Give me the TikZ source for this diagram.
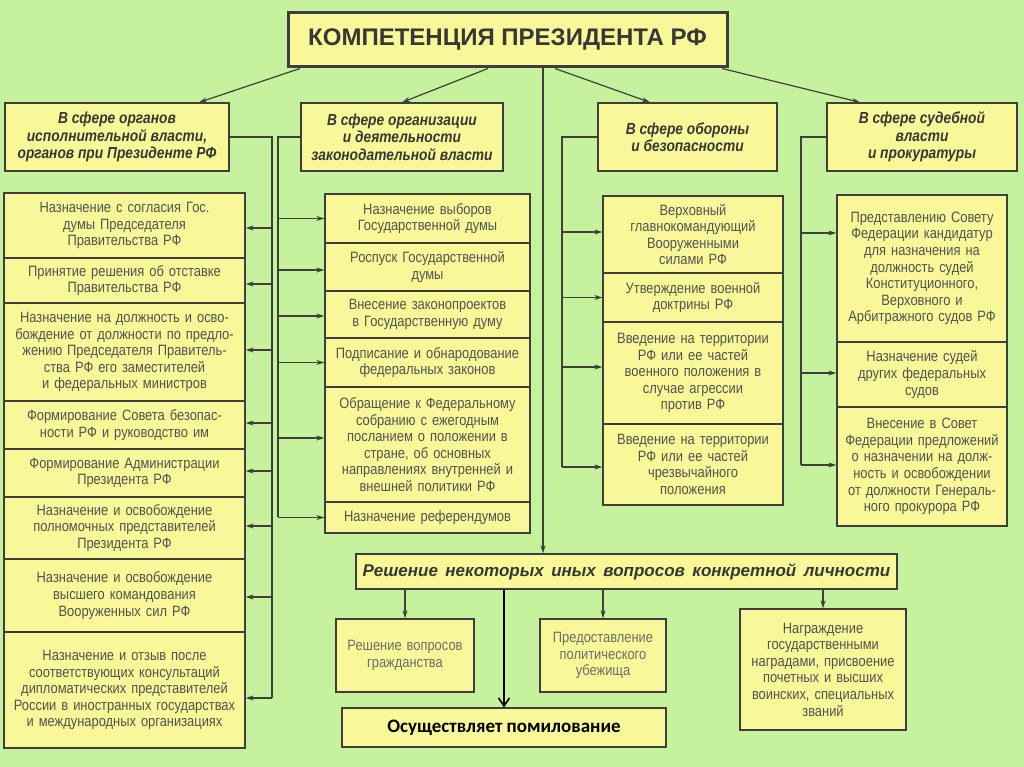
\documentclass[tikz,border=0pt]{standalone}
\usepackage{fontspec}
\setmainfont{Liberation Sans}
\newfontfamily\narrowsf[FakeStretch=0.86]{Liberation Sans}
\newfontfamily\calibrisf{Carlito}
\usetikzlibrary{arrows.meta,positioning}

\definecolor{bggreen}{RGB}{198,242,157}
\definecolor{boxfill}{RGB}{248,248,152}
\definecolor{edgegray}{RGB}{62,62,62}
\definecolor{inkgray}{RGB}{82,82,82}
\definecolor{headgray}{RGB}{55,55,55}

\begin{document}
\begin{tikzpicture}[x=1pt,y=-1pt]
  \tikzset{every node/.style={inner sep=0pt,align=center}}
  \tikzset{cell/.style={draw=edgegray,line width=1.3pt,fill=boxfill,text=inkgray,
      font=\narrowsf\fontsize{15}{16.6}\selectfont}}
  \tikzset{head/.style={cell,text=headgray,font=\narrowsf\bfseries\itshape\fontsize{16}{17.5}\selectfont}}
  \tikzset{colA/.style={cell,minimum width=241,text width=237}}
  \tikzset{colB/.style={cell,minimum width=205,text width=201}}
  \tikzset{colC/.style={cell,minimum width=180,text width=176}}
  \tikzset{colD/.style={cell,minimum width=170,text width=166}}
  \tikzset{link/.style={draw=edgegray,line width=1.2pt}}
  \tikzset{tip/.style={link,-{Stealth[length=8pt,width=5pt]}}}

  \fill[bggreen] (0,0) rectangle (1024,767);
  \useasboundingbox (0,0) rectangle (1024,767);

  % title
  \node[cell,line width=3pt,text=headgray,minimum width=439,minimum height=54,
    font=\bfseries\fontsize{24}{28}\selectfont] (T) at (507.5,40) {КОМПЕТЕНЦИЯ ПРЕЗИДЕНТА РФ};

  % spheres
  \node[head,minimum width=224,minimum height=68] (A) at (117,137)
    {В сфере органов\\исполнительной власти,\\органов при Президенте РФ};
  \node[head,minimum width=202,minimum height=68] (B) at (402,137)
    {В сфере организации\\и деятельности\\законодательной власти};
  \node[head,minimum width=179,minimum height=68] (C) at (687.5,137)
    {В сфере обороны\\и безопасности};
  \node[head,minimum width=190,minimum height=68] (D) at (922,137)
    {В сфере судебной\\власти\\и прокуратуры};

  \draw[tip] ([xshift=-207.5]T.south) -- ([xshift=82]A.north);
  \draw[tip] ([xshift=-19.5]T.south) -- (B.north);
  \draw[tip] ([xshift=47.5]T.south) -- ([xshift=-37.5]C.north);
  \draw[tip] ([xshift=214.5]T.south) -- ([xshift=-62]D.north);

  % executive column
  \node[colA,minimum height=65] (L1) at (124.5,225.5)
    {Назначение с согласия Гос.\\думы Председателя\\Правительства РФ};
  \node[colA,minimum height=45] (L2) at (124.5,280.5)
    {Принятие решения об отставке\\Правительства РФ};
  \node[colA,minimum height=98] (L3) at (124.5,352)
    {Назначение на должность и осво-\\бождение от должности по предло-\\жению Председателя Правитель-\\ства РФ его заместителей\\и федеральных министров};
  \node[colA,minimum height=48] (L4) at (124.5,425)
    {Формирование Совета безопас-\\ности РФ и руководство им};
  \node[colA,minimum height=48] (L5) at (124.5,473)
    {Формирование Администрации\\Президента РФ};
  \node[colA,minimum height=62] (L6) at (124.5,528)
    {Назначение и освобождение\\полномочных представителей\\Президента РФ};
  \node[colA,minimum height=73] (L7) at (124.5,595.5)
    {Назначение и освобождение\\высшего командования\\Вооруженных сил РФ};
  \node[colA,minimum height=116] (L8) at (124.5,690)
    {Назначение и отзыв после\\соответствующих консультаций\\дипломатических представителей\\России в иностранных государствах\\и международных организациях};

  % legislative column
  \node[colB,minimum height=49] (B1) at (427.5,218.5)
    {Назначение выборов\\Государственной думы};
  \node[colB,minimum height=48] (B2) at (427.5,267)
    {Роспуск Государственной\\думы};
  \node[colB,minimum height=47] (B3) at (427.5,314.5)
    {Внесение законопроектов\\в Государственную думу};
  \node[colB,minimum height=49] (B4) at (427.5,362.5)
    {Подписание и обнародование\\федеральных законов};
  \node[colB,minimum height=115] (B5) at (427.5,444.5)
    {Обращение к Федеральному\\собранию с ежегодным\\посланием о положении в\\стране, об основных\\направлениях внутренней и\\внешней политики РФ};
  \node[colB,minimum height=31] (B6) at (427.5,517.5)
    {Назначение референдумов};

  % defence column
  \node[colC,minimum height=77] (C1) at (693,234.5)
    {Верховный\\главнокомандующий\\Вооруженными\\силами РФ};
  \node[colC,minimum height=49] (C2) at (693,297.5)
    {Утверждение военной\\доктрины РФ};
  \node[colC,minimum height=102] (C3) at (693,373)
    {Введение на территории\\РФ или ее частей\\военного положения в\\случае агрессии\\против РФ};
  \node[colC,minimum height=81] (C4) at (693,464.5)
    {Введение на территории\\РФ или ее частей\\чрезвычайного\\положения};

  % judicial column
  \node[colD,minimum height=147] (D1) at (922,268.5)
    {Представлению Совету\\Федерации кандидатур\\для назначения на\\должность судей\\Конституционного,\\Верховного и\\Арбитражного судов РФ};
  \node[colD,minimum height=65] (D2) at (922,374.5)
    {Назначение судей\\других федеральных\\судов};
  \node[colD,minimum height=119] (D3) at (922,466.5)
    {Внесение в Совет\\Федерации предложений\\о назначении на долж-\\ность и освобождении\\от должности Генераль-\\ного прокурора РФ};

  % spines
  \coordinate (sA) at (272,698);
  \coordinate (sB) at (278,517);
  \coordinate (sC) at (562,467);
  \coordinate (sD) at (801,465);
  \draw[link] (A.east) -| (sA);
  \draw[link] (B.west) -| (sB);
  \draw[link] (C.west) -| (sC);
  \draw[link] (D.west) -| (sD);
  \foreach \n/\dy in {L1/-2.5,L2/-3.5,L3/2,L4/2,L5/2,L6/2,L7/-1.5,L8/-8}
    \draw[tip] ([yshift=\dy pt]\n.east -| sA) -- ([yshift=\dy pt]\n.east);
  \foreach \n/\dy in {B1/0,B2/-3,B3/-1.5,B4/0,B5/6.5,B6/0}
    \draw[tip] ([yshift=\dy pt]\n.west -| sB) -- ([yshift=\dy pt]\n.west);
  \foreach \n/\dy in {C1/2.5,C2/0,C3/6,C4/-2.5}
    \draw[tip] ([yshift=\dy pt]\n.west -| sC) -- ([yshift=\dy pt]\n.west);
  \foreach \n/\dy in {D1/35.5,D2/1.5,D3/1.5}
    \draw[tip] ([yshift=\dy pt]\n.west -| sD) -- ([yshift=\dy pt]\n.west);

  % personal matters
  \node[cell,text=headgray,minimum width=541,minimum height=35,
    font=\bfseries\itshape\fontsize{17}{20}\selectfont] (R) at (626.5,571.5)
    {\spaceskip=7.5pt Решение некоторых иных вопросов конкретной личности};
  \draw[tip] ([xshift=35.5]T.south) -- ([xshift=35.5]T.south |- R.north);

  \node[cell,text=inkgray!85,minimum width=138,minimum height=73,text width=132] (G) at (405,655.5)
    {Решение вопросов\\гражданства};
  \node[cell,text=inkgray!85,minimum width=126,minimum height=73,text width=120] (U) at (603,655.5)
    {Предоставление\\политического\\убежища};
  \node[cell,minimum width=166,minimum height=121,text width=160] (N) at (823,669.5)
    {Награждение\\государственными\\наградами, присвоение\\почетных и высших\\воинских, специальных\\званий};
  \node[cell,text=black,minimum width=324,minimum height=39,
    font=\calibrisf\bfseries\fontsize{19}{22}\selectfont] (P) at (504,727.5)
    {Осуществляет помилование};

  \draw[tip] (R.south -| G.north) -- (G.north);
  \draw[tip] (R.south -| U.north) -- (U.north);
  \draw[tip] (R.south -| N.north) -- (N.north);
  \draw[black,line width=1.6pt,-{Straight Barb[length=8pt,width=11pt]}] (R.south -| P.north) -- (P.north);
\end{tikzpicture}
\end{document}
